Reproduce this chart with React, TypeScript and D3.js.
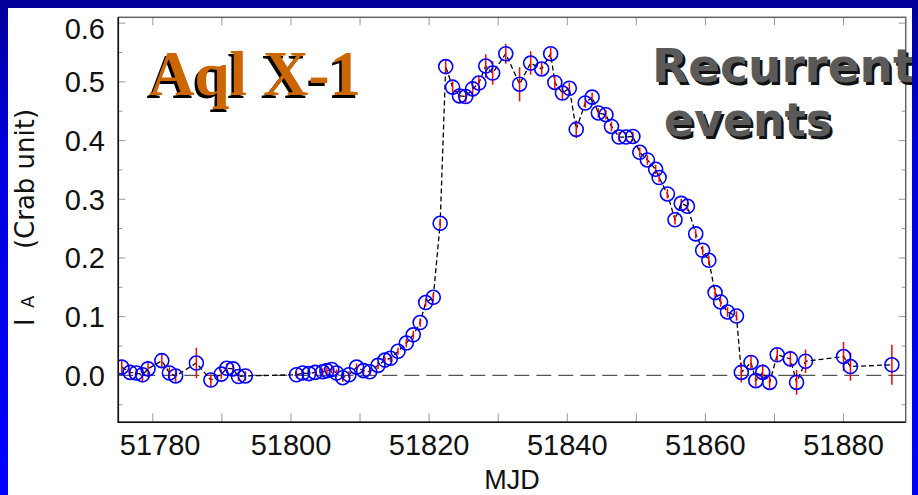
import React from "react";
import * as d3 from "d3";

// light curve of Aql X-1 (ASM)
const mjd = [
  51775.5, 51776.7, 51777.6, 51778.5, 51779.3, 51781.3, 51782.4, 51783.3, 51786.3, 51788.4,
  51789.9, 51790.7, 51791.6, 51792.4, 51793.4,
  51800.8, 51801.7, 51802.6, 51803.5, 51804.6, 51805.2, 51805.9, 51806.6, 51807.5, 51808.4,
  51809.5, 51810.5, 51811.4, 51812.6, 51813.6, 51814.4, 51815.5, 51816.7, 51817.7, 51818.7,
  51819.5, 51820.6, 51821.6,
  51822.4, 51823.4, 51824.4, 51825.3, 51826.3, 51827.2, 51828.2, 51829.2, 51831.1, 51833.1,
  51834.7, 51836.3, 51837.6, 51838.2, 51839.3, 51840.3, 51841.3, 51842.6, 51843.6, 51844.5,
  51845.6, 51846.4, 51847.5, 51848.5, 51849.5, 51850.5, 51851.6, 51852.8, 51853.3, 51854.5,
  51855.6, 51856.5, 51857.4, 51858.6, 51859.6, 51860.5, 51861.4, 51862.2, 51863.2, 51864.5,
  51865.2, 51866.6, 51867.3, 51868.3, 51869.3, 51870.4, 51872.3, 51873.2, 51874.5, 51880.0,
  51881.0, 51887.0,
];
const flux = [
  0.014, 0.005, 0.004, 0.001, 0.011, 0.025, 0.004, -0.001, 0.021, -0.008,
  0.002, 0.012, 0.011, -0.002, -0.001,
  0.001, 0.004, 0.003, 0.005, 0.006, 0.008, 0.010, 0.004, -0.004, 0.001,
  0.014, 0.008, 0.006, 0.017, 0.026, 0.029, 0.041, 0.055, 0.069, 0.090,
  0.124, 0.133, 0.259,
  0.526, 0.491, 0.476, 0.475, 0.488, 0.498, 0.527, 0.515, 0.548, 0.496,
  0.532, 0.522, 0.548, 0.499, 0.481, 0.489, 0.419, 0.464, 0.474, 0.447,
  0.444, 0.424, 0.406, 0.406, 0.407, 0.380, 0.367, 0.351, 0.337, 0.309,
  0.265, 0.293, 0.288, 0.241, 0.213, 0.196, 0.141, 0.125, 0.108, 0.101,
  0.005, 0.022, -0.009, 0.005, -0.012, 0.035, 0.028, -0.012, 0.024, 0.032,
  0.015, 0.018,
];
const fluxErr = [
  0.012, 0.008, 0.006, 0.013, 0.014, 0.012, 0.010, 0.012, 0.026, 0.010,
  0.008, 0.008, 0.008, 0.008, 0.008,
  0.006, 0.006, 0.006, 0.006, 0.006, 0.006, 0.006, 0.006, 0.007, 0.006,
  0.006, 0.006, 0.006, 0.006, 0.006, 0.006, 0.006, 0.007, 0.007, 0.007,
  0.007, 0.007, 0.008,
  0.012, 0.010, 0.012, 0.010, 0.010, 0.012, 0.020, 0.020, 0.017, 0.029,
  0.020, 0.010, 0.010, 0.012, 0.012, 0.010, 0.015, 0.008, 0.008, 0.008,
  0.008, 0.008, 0.008, 0.008, 0.008, 0.008, 0.008, 0.008, 0.008, 0.008,
  0.008, 0.008, 0.008, 0.008, 0.008, 0.008, 0.008, 0.008, 0.008, 0.008,
  0.017, 0.011, 0.010, 0.014, 0.010, 0.012, 0.014, 0.021, 0.020, 0.025,
  0.024, 0.034,
];

const xTicks = d3.range(51780, 51890, 10);
const xLabels = [51780, 51800, 51820, 51840, 51860, 51880];
const yMajor = [0, 0.1, 0.2, 0.3, 0.4, 0.5, 0.6];
const yMinor = [-0.05, 0.05, 0.15, 0.25, 0.35, 0.45, 0.55];

const W = 918;
const H = 495;
const m = { left: 118.3, right: 905.7, top: 17.3, bottom: 422.3 };

const sans = "'Liberation Sans', Arial, sans-serif";

export default function App() {
  const x = d3.scaleLinear().domain([51775, 51889]).range([m.left, m.right]);
  const y = d3.scaleLinear().domain([-0.08, 0.61]).range([m.bottom, m.top]);

  const pts = mjd.map((d, i) => ({ t: d, v: flux[i], e: fluxErr[i] }));
  const line = d3
    .line<{ t: number; v: number }>()
    .x((d) => x(d.t))
    .y((d) => y(d.v));

  return (
    <svg
      width={W}
      height={H}
      style={{ position: "absolute", left: 0, top: 0 }}
    >
      <defs>
        <linearGradient id="edge" x1="0" y1="0" x2="0" y2="1">
          <stop offset="0" stopColor="#000099" />
          <stop offset="0.3" stopColor="#0000dd" />
          <stop offset="1" stopColor="#0000ff" />
        </linearGradient>
        <clipPath id="plot">
          <rect x={m.left} y={m.top} width={m.right - m.left} height={m.bottom - m.top} />
        </clipPath>
      </defs>

      <rect x={0} y={0} width={W} height={H} fill="#ffffff" />

      {/* ticks */}
      <g stroke="#999" strokeWidth={1}>
        {xTicks.map((t) => (
          <g key={t}>
            <line x1={x(t)} x2={x(t)} y1={m.bottom} y2={m.bottom - 9} />
            <line x1={x(t)} x2={x(t)} y1={m.top} y2={m.top + 8} />
          </g>
        ))}
        {yMajor.map((v) => (
          <g key={v}>
            <line x1={m.left} x2={m.left + 7} y1={y(v)} y2={y(v)} />
            <line x1={m.right} x2={m.right - 7} y1={y(v)} y2={y(v)} />
          </g>
        ))}
        {yMinor.map((v) => (
          <g key={v}>
            <line x1={m.left} x2={m.left + 4} y1={y(v)} y2={y(v)} />
            <line x1={m.right} x2={m.right - 4} y1={y(v)} y2={y(v)} />
          </g>
        ))}
      </g>

      {/* zero level */}
      <line
        x1={m.left}
        x2={m.right}
        y1={y(0)}
        y2={y(0)}
        stroke="#555"
        strokeWidth={1.4}
        strokeDasharray="15 7"
      />

      <g clipPath="url(#plot)">
        <path
          d={line(pts) || ""}
          fill="none"
          stroke="#000"
          strokeWidth={1.3}
          strokeDasharray="5 3"
        />
        {pts.map((p, i) => (
          <line
            key={"e" + i}
            x1={x(p.t)}
            x2={x(p.t)}
            y1={y(p.v - p.e)}
            y2={y(p.v + p.e)}
            stroke="#ff0000"
            strokeWidth={1.5}
          />
        ))}
        {pts.map((p, i) => (
          <circle
            key={"c" + i}
            cx={x(p.t)}
            cy={y(p.v)}
            r={7}
            fill="none"
            stroke="#0000ff"
            strokeWidth={1.6}
          />
        ))}
      </g>

      {/* frame */}
      <rect
        x={m.left}
        y={m.top}
        width={m.right - m.left}
        height={m.bottom - m.top}
        fill="none"
        stroke="#666"
        strokeWidth={1.5}
      />
      <path
        d={`M${m.left},${m.top}V${m.bottom}H${m.right}`}
        fill="none"
        stroke="#111"
        strokeWidth={1.5}
      />

      {/* tick labels */}
      <g fontFamily={sans} fontSize={29} fill="#111">
        {xLabels.map((t) => {
          const clamp = x(t) - 41 < m.left;
          return (
            <text
              key={t}
              x={clamp ? m.left + 1.5 : x(t)}
              y={455}
              textAnchor={clamp ? "start" : "middle"}
            >
              {t}
            </text>
          );
        })}
        {yMajor.map((v) => (
          <text key={v} x={105} y={Math.max(y(v) + 10.5, 39.3)} textAnchor="end">
            {v.toFixed(1)}
          </text>
        ))}
      </g>

      <text x={(m.left + m.right) / 2} y={489} textAnchor="middle" fontFamily={sans} fontSize={27} fill="#111">
        MJD
      </text>

      <g fontFamily="'DejaVu Sans', sans-serif" fill="#111">
        <text transform="translate(34,326) rotate(-90)" fontSize={26}>I</text>
        <text transform="translate(34,308) rotate(-90)" fontSize={18}>A</text>
        <text transform="translate(34,179) rotate(-90)" fontSize={26} textAnchor="middle">
          (Crab unit)
        </text>
      </g>

      {/* titles */}
      <g fontFamily="'Liberation Serif', 'Times New Roman', serif" fontWeight="bold" fontSize={63}>
        <text x={146.5} y={97.5} fill="#000" textLength={212} lengthAdjust="spacingAndGlyphs">Aql X-1</text>
        <text x={149} y={95} fill="#cc6600" textLength={212} lengthAdjust="spacingAndGlyphs">Aql X-1</text>
      </g>
      <g fontFamily="'DejaVu Sans', sans-serif" fontWeight="bold" fontSize={47}>
        <text x={654.5} y={84.5} fill="#111">Recurrent</text>
        <text x={652} y={82} fill="#5a5a5a">Recurrent</text>
        <text x={666.5} y={138.5} fill="#111" textLength={168} lengthAdjust="spacingAndGlyphs">events</text>
        <text x={664} y={136} fill="#5a5a5a" textLength={168} lengthAdjust="spacingAndGlyphs">events</text>
      </g>

      {/* slide border */}
      <rect x={0} y={0} width={8} height={H} fill="url(#edge)" />
      <rect x={912} y={0} width={6} height={H} fill="url(#edge)" />
      <rect x={0} y={0} width={W} height={8} fill="#000099" />
    </svg>
  );
}
